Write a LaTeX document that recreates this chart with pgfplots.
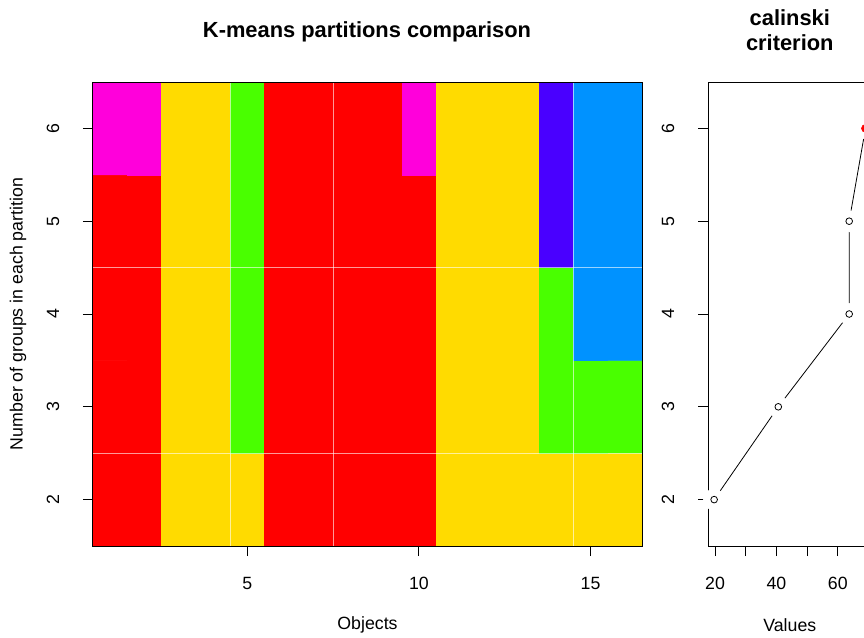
\documentclass[border=0pt]{standalone}
\usepackage{pgfplots}
\usepackage{pgfplotstable}
\pgfplotsset{compat=1.18}
\usepackage{fontspec}
\setmainfont{Liberation Sans}

% cluster id: 1 red, 2 yellow, 3 green, 4 azure, 5 violet, 6 magenta
\pgfplotstableread{
x y c
1 2 1
2 2 1
3 2 2
4 2 2
5 2 2
6 2 1
7 2 1
8 2 1
9 2 1
10 2 1
11 2 2
12 2 2
13 2 2
14 2 2
15 2 2
16 2 2
1 3 1
2 3 1
3 3 2
4 3 2
5 3 3
6 3 1
7 3 1
8 3 1
9 3 1
10 3 1
11 3 2
12 3 2
13 3 2
14 3 3
15 3 3
16 3 3
1 4 1
2 4 1
3 4 2
4 4 2
5 4 3
6 4 1
7 4 1
8 4 1
9 4 1
10 4 1
11 4 2
12 4 2
13 4 2
14 4 3
15 4 4
16 4 4
1 5 1
2 5 1
3 5 2
4 5 2
5 5 3
6 5 1
7 5 1
8 5 1
9 5 1
10 5 1
11 5 2
12 5 2
13 5 2
14 5 5
15 5 4
16 5 4
1 6 6
2 6 6
3 6 2
4 6 2
5 6 3
6 6 1
7 6 1
8 6 1
9 6 1
10 6 6
11 6 2
12 6 2
13 6 2
14 6 5
15 6 4
16 6 4
}\kmtable

\pgfplotstableread{
v k
19.7 2
40.6 3
63.7 4
63.7 5
69.0 6
}\caltable

\pgfplotsset{
  rstyle/.style={
    scale only axis,
    anchor=south west,
    height=348pt,
    ymin=1.5, ymax=6.5,
    ytick={2,3,4,5,6},
    xtick pos=bottom, ytick pos=left,
    tick align=outside,
    major tick length=7.5pt,
    tick style={black, line width=0.75pt},
    axis line style={line width=0.75pt},
    axis on top,
    font=\fontsize{13.3}{15}\selectfont,
    /pgf/number format/assume math mode=true,
    xticklabel style={anchor=center, yshift=-20.5pt},
    yticklabel style={anchor=center, xshift=-22.5pt, rotate=90},
  }
}

\begin{document}
\begin{tikzpicture}
\draw[white] (0,0) rectangle (648pt,477.75pt);

\begin{axis}[rstyle,
  at={(69.75pt,68.25pt)},
  width=411.75pt,
  xmin=0.5, xmax=16.5,
  xtick={5,10,15},
  xlabel={Objects},
  ylabel={Number of groups in each partition},
  xlabel style={at={(axis description cs:0.5,-0.1703)}, anchor=center},
  ylabel style={at={(axis description cs:-0.1366,0.5)}, anchor=center},
  colormap={km}{rgb255=(255,0,0) rgb255=(255,219,0) rgb255=(73,255,0) rgb255=(0,146,255) rgb255=(73,0,255) rgb255=(255,0,219)},
  colormap access=piecewise constant,
  point meta min=0.5, point meta max=6.5,
]
\addplot[matrix plot*, mesh/cols=16, point meta=explicit] table[x=x, y=y, meta=c] {\kmtable};
\addplot[white, opacity=0.6, line width=0.75pt, forget plot] coordinates {(4.5,1.5) (4.5,6.5)};
\addplot[white, opacity=0.6, line width=0.75pt, forget plot] coordinates {(7.5,1.5) (7.5,6.5)};
\addplot[white, opacity=0.6, line width=0.75pt, forget plot] coordinates {(14.5,1.5) (14.5,6.5)};
\addplot[white, opacity=0.6, line width=0.75pt, forget plot] coordinates {(0.5,2.5) (16.5,2.5)};
\addplot[white, opacity=0.6, line width=0.75pt, forget plot] coordinates {(0.5,4.5) (16.5,4.5)};
\end{axis}

\begin{axis}[rstyle,
  at={(531pt,68.25pt)},
  width=122.7pt,
  xmin=17.7, xmax=71,
  xtick={20,30,40,50,60,70},
  xticklabels={20,,40,,60,},
  xlabel={Values},
  xlabel style={at={(axis description cs:0.5,-0.1703)}, anchor=center},
]
\addplot[black, line width=0.6pt] table[x=v, y=k] {\caltable};
\addplot[only marks, mark=*, mark size=8pt, white, mark options={draw=white, fill=white}] table[x=v, y=k] {\caltable};
\addplot[only marks, mark=o, mark size=2.5pt, black, mark options={fill=white, line width=0.6pt}] coordinates {(19.7,2) (40.6,3) (63.7,4) (63.7,5)};
\addplot[only marks, mark=*, mark size=3pt, red, mark options={draw=red, fill=red}] coordinates {(69.0,6)};
\end{axis}

\node[anchor=base, font=\fontsize{16.4}{19}\selectfont\bfseries] at (275.25pt,449.25pt) {K-means partitions comparison};
\node[anchor=base, font=\fontsize{16.4}{19}\selectfont\bfseries] at (592.35pt,458.25pt) {calinski};
\node[anchor=base, font=\fontsize{16.4}{19}\selectfont\bfseries] at (592.35pt,439.5pt) {criterion};

\pgfresetboundingbox
\path[use as bounding box] (0,0) rectangle (648pt,477.75pt);
\end{tikzpicture}
\end{document}
